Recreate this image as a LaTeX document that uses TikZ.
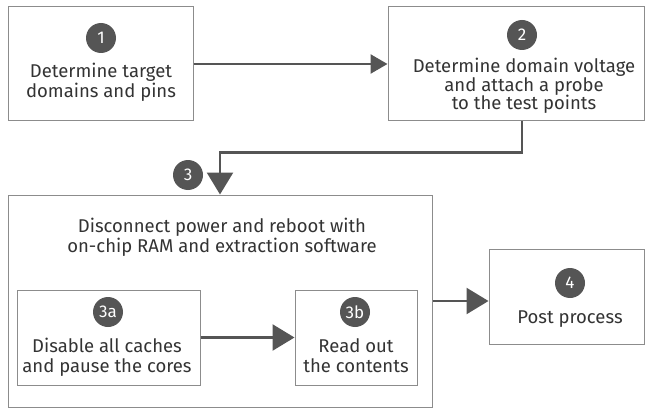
\documentclass[tikz,border=0pt]{standalone}
\usepackage{fontspec}
\setmainfont{Fira Sans}
\usetikzlibrary{arrows.meta}
\definecolor{darkgrey}{HTML}{555555}
\definecolor{boxgrey}{HTML}{8C8C8C}
\definecolor{textgrey}{HTML}{333333}
\tikzset{
		box/.style   = {shape=rectangle, draw=boxgrey, line width=1pt, inner sep=0pt},
		badge/.style = {shape=circle, fill=darkgrey, text=white,
				minimum size=30pt, inner sep=0pt,
				font=\fontsize{17}{20}\selectfont},
		txt/.style   = {align=center, text=textgrey, inner sep=0pt, anchor=base,
				font=\fontsize{18.5}{20}\selectfont},
		conn/.style  = {draw=darkgrey, line width=2.5pt, -{Triangle[length=22pt,width=26pt]}}
	}
\begin{document}
\begin{tikzpicture}[x=1pt, y=-1pt]
				\useasboundingbox (0,0) rectangle (645,409);
				\node [box, minimum width=185pt, minimum height=114pt] (b1)  at (100.5,64) {};
				\node [box, minimum width=256pt, minimum height=114pt] (b2)  at (516,64) {};
				\node [box, minimum width=424pt, minimum height=212pt] (b3)  at (220,301) {};
				\node [box, minimum width=183pt, minimum height=95pt]  (b3a) at (108.5,337.5) {};
				\node [box, minimum width=122pt, minimum height=95pt]  (b3b) at (356,337.5) {};
				\node [box, minimum width=155pt, minimum height=95pt]  (b4)  at (566.5,296.5) {};
				\node [badge] (n1)  at (101,38)  {1};
				\node [badge] (n2)  at (522,35)  {2};
				\node [badge] (n3)  at (188,175) {3};
				\node [badge] (n3a) at (108,312) {3a};
				\node [badge] (n3b) at (355,312) {3b};
				\node [badge] (n4)  at (570,283) {4};
				\node [txt] (t1)  at (101,98)  {Determine target\\domains and pins};
				\node [txt, font=\fontsize{18.5}{18.5}\selectfont] (t2)  at (524,110) {Determine domain voltage\\and attach a probe\\to the test points};
				\node [txt] (t3)  at (222,252) {Disconnect power and reboot with\\on-chip RAM and extraction software};
				\node [txt] (t3a) at (107,372) {Disable all caches\\and pause the cores};
				\node [txt] (t3b) at (356,372) {Read out\\the contents};
				\node [txt] (t4)  at (570,323) {Post process};
				\draw [conn, -{Triangle[length=17pt,width=19pt]}] (b1) -- (b2);
				\draw [conn] (n2 |- b2.south) -- ++(0,31) -| (b3.north);
				\draw [conn] (b3a) -- (b3b);
				\draw [conn] (b3.east) -- (b3.east -| b4.west);
			\end{tikzpicture}
\end{document}
